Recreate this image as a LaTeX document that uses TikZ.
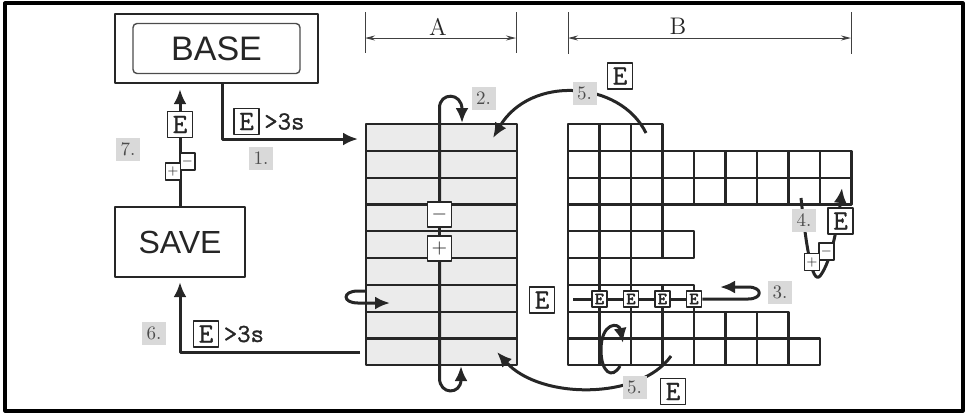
\documentclass[tikz,border=0pt]{standalone}
\usepackage{fontspec}
\newfontfamily\panelfont{Liberation Sans}
\newfontfamily\keyfont{Latin Modern Mono}[FakeBold=1.2]
\newfontfamily\tinykeyfont{Latin Modern Mono}[FakeBold=3]
\usepackage{tikz}
\usetikzlibrary{arrows.meta,positioning,calc}

\begin{document}
\begin{tikzpicture}[x=0.5pt,y=-0.5pt,line join=round,
    flow/.style={draw=black!85,line width=1.5pt},
    arr/.style={-{Latex[length=7.5pt,width=6.5pt]}},
    keybox/.style={draw=black!85,fill=white,line width=0.9pt,inner sep=0pt,minimum width=12.5pt,minimum height=13pt,text=black!85,font=\keyfont\fontsize{14}{14}\selectfont},
    tinykey/.style={draw=black!85,fill=white,line width=0.9pt,inner sep=0pt,minimum width=7.5pt,minimum height=8pt,text=black!85,font=\tinykeyfont\fontsize{8.5}{8.5}\selectfont},
    pmkey/.style={draw=black!85,fill=white,line width=0.9pt,inner sep=0pt,minimum width=12pt,minimum height=12.5pt,text=black!85,font=\fontsize{10}{10}\selectfont},
    pmsmall/.style={draw=black!85,fill=white,line width=0.8pt,inner sep=0pt,minimum width=7.5pt,minimum height=8.5pt,text=black!85,font=\fontsize{6.5}{6.5}\selectfont},
    numlabel/.style={fill=black!15,text=black!70,inner sep=0pt,minimum width=12pt,minimum height=11.5pt,font=\fontsize{9.5}{9.5}\selectfont},
    holdtext/.style={inner sep=0pt,text=black!85,font=\keyfont\fontsize{13}{13}\selectfont},
    dim/.style={draw=black!75,line width=0.5pt},
    cell/.style={draw=black!85,line width=1.1pt}]
\useasboundingbox (0,0) rectangle (968,414);
\draw[line width=1.6pt] (5,3) rectangle (963,411);

\node[draw=black!85,line width=1.1pt,minimum width=101.5pt,minimum height=34.5pt] (base) at (216.5,48.5) {};
\node[draw=black!70,line width=0.7pt,rounded corners=2pt,minimum width=83.5pt,minimum height=25pt,text=black!85,font=\panelfont\fontsize{17}{17}\selectfont] (basetxt) at (base.center) {BASE};
\node[draw=black!85,line width=1.1pt,minimum width=65pt,minimum height=35pt,text=black!85,font=\panelfont\fontsize{16}{16}\selectfont] (save) at (180,242) {SAVE};

\draw[dim] (365,12) -- (365,53) (516,12) -- (516,53);
\draw[dim,{Stealth[length=5pt,width=2.5pt]}-{Stealth[length=5pt,width=2.5pt]}] (365,38) -- (516,38);
\node[font=\fontsize{12}{12}\selectfont,text=black!85] (dimA) at (438,27) {A};
\draw[dim] (568,12) -- (568,54) (851,12) -- (851,54);
\draw[dim,{Stealth[length=5pt,width=2.5pt]}-{Stealth[length=5pt,width=2.5pt]}] (568,38) -- (851,38);
\node[font=\fontsize{12}{12}\selectfont,text=black!85] (dimB) at (678,26) {B};

\fill[black!8] (366,124) rectangle (517,365);
\foreach \r in {1,...,8}
    \draw[cell] (366,{124+26.8*\r}) -- (517,{124+26.8*\r});
\draw[cell] (366,124) rectangle (517,365);

\foreach \n [count=\r from 0] in {3,9,9,3,4,2,4,7,8}
    \foreach \c in {1,...,\n}
        \draw[cell] ({568+31.5*(\c-1)},{124+26.8*\r}) rectangle +(31.5,26.8);

\coordinate (ain) at (358,139);
\coordinate (aout) at (360,352);
\draw[flow,arr] ($(base.south)+(5.5,0)$) |- (ain);
\draw[flow,arr,shorten >=2.5pt] (save.north) -- (save.north |- base.south);
\draw[flow,arr,shorten >=2pt] (aout) -| (save.south);

\node[keybox] (e7) at (180,124.5) {E};
\node[pmsmall] (m7) at (187.5,161.5) {$-$};
\node[pmsmall] (p7) at (173,171.5) {$+$};
\node[numlabel] (n7) at (128,149.5) {7.};

\node[keybox] (e1) at (246.5,121.5) {E};
\node[holdtext,right=2pt of e1] (t1) {>3s};
\node[numlabel] (n1) at (261,158.5) {1.};

\node[keybox] (e6) at (206,334) {E};
\node[holdtext,right=2pt of e6] (t6) {>3s};
\node[numlabel] (n6) at (154,333) {6.};

\node[pmkey] (mA) at (439.5,214.5) {$-$};
\node[pmkey] (pA) at (439.5,248.5) {$+$};
\draw[flow,arr] (mA) -- (439.5,108) .. controls (439.5,92) and (462,92) .. (462,123);
\draw[flow] (mA) -- (pA);
\draw[flow,arr] (pA) -- (439.5,378) .. controls (439.5,395) and (461,395) .. (461,366);
\node[numlabel] (n2) at (483.5,98.5) {2.};

\draw[flow,arr] (366,291) -- (358,291) .. controls (342,291) and (342,303) .. (358,303) -- (390,303);

\coordinate (b5top) at (646,133);
\coordinate (a5top) at (493,138);
\draw[flow,arr] (b5top) .. controls (620,80) and (530,75) .. (a5top);
\node[numlabel] (n5a) at (584.5,93) {5.};
\node[keybox] (e5a) at (620,76) {E};

\coordinate (b5bot) at (671,356);
\coordinate (a5bot) at (497,352);
\draw[flow,arr] (b5bot) .. controls (640,400) and (540,400) .. (a5bot);
\node[numlabel] (n5b) at (634.5,387.5) {5.};
\node[keybox] (e5b) at (673,391.5) {E};

\draw[flow,arr] (620,366) .. controls (612,380) and (601,372) .. (601,350) .. controls (601,322) and (619,322) .. (623,343);

\node[keybox] (eB) at (542,300) {E};
\foreach \i/\x in {1/599.5,2/631,3/662.5,4/694}
    \node[tinykey] (k\i) at (\x,299) {E};
\coordinate (r7s) at (573,299);
\draw[flow] (r7s) -- (k1) -- (k2) -- (k3) -- (k4);
\draw[flow,arr] (k4) -- (748,299) .. controls (763,299) and (763,287) .. (748,287) -- (720,287);
\node[numlabel] (n3) at (780,292.5) {3.};

\draw[flow,arr] (801,198) .. controls (806,245) and (812,285) .. (820,276) .. controls (828,266) and (836,240) .. (842,188);
\node[numlabel] (n4) at (804,220.5) {4.};
\node[pmsmall] (m4) at (826.5,251.5) {$-$};
\node[pmsmall] (p4) at (812,262) {$+$};
\node[keybox] (e4) at (840.5,221) {E};
\end{tikzpicture}
\end{document}
